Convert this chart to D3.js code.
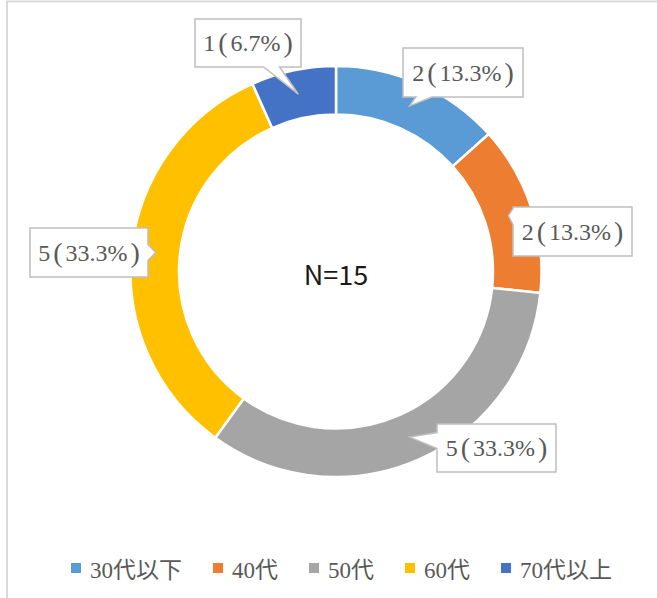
<!DOCTYPE html>
<html><head><meta charset="utf-8">
<script src="https://cdn.jsdelivr.net/npm/d3@7"></script>
<style>body{margin:0;background:#fff;}svg{display:block;}</style>
</head><body>
<svg id="c" width="657" height="598"></svg>
<script>
const categories = ["30代以下", "40代", "50代", "60代", "70代以上"];
const counts = [2, 2, 5, 5, 1];
const labels = ["2(13.3%)", "2(13.3%)", "5(33.3%)", "5(33.3%)", "1(6.7%)"];
const colors = ["#5B9BD5", "#ED7D31", "#A5A5A5", "#FFC000", "#4472C4"];
const centerText = "N=15";

// layout (label box centers/sizes), not data
const labelBoxes = [
  {cx: 463, cy: 72.5, w: 120, h: 49},
  {cx: 572.5, cy: 231.5, w: 119, h: 49},
  {cx: 496.5, cy: 448, w: 119, h: 48},
  {cx: 89, cy: 252.5, w: 118, h: 49},
  {cx: 248, cy: 43, w: 106, h: 48}
];

const svg = d3.select("#c");
svg.append("rect").attr("x", 7).attr("y", 1.5).attr("width", 700).attr("height", 700)
  .attr("fill", "none").attr("stroke", "#d9d9d9").attr("stroke-width", 2);

const cx = 336, cy = 271.5, rOut = 205.5, rIn = 157;
const pie = d3.pie().value(d => d).sort(null);
const arcs = pie(counts);
const arc = d3.arc().innerRadius(rIn).outerRadius(rOut);
const g = svg.append("g").attr("transform", `translate(${cx},${cy})`);
g.selectAll("path.slice").data(arcs).join("path")
  .attr("class", "slice")
  .attr("d", arc)
  .attr("fill", (d, i) => colors[i])
  .attr("stroke", "#fff").attr("stroke-width", 2.5);

svg.append("text").attr("x", cx).attr("y", 285).attr("text-anchor", "middle")
  .attr("font-family", "'Noto Sans CJK JP','Noto Sans',sans-serif").attr("font-size", 27)
  .attr("fill", "#1a1a1a").text(centerText);

const fontSerif = "'Liberation Serif','DejaVu Serif','Noto Sans CJK JP',serif";
arcs.forEach((a, i) => {
  const c = arc.centroid(a);
  const tip = [c[0] + cx, c[1] + cy];
  const b = labelBoxes[i];
  const x0 = b.cx - b.w / 2, x1 = b.cx + b.w / 2, y0 = b.cy - b.h / 2, y1 = b.cy + b.h / 2;
  const dx = tip[0] - b.cx, dy = tip[1] - b.cy;
  let tx = Infinity, ty = Infinity;
  if (dx !== 0) tx = (b.w / 2) / Math.abs(dx);
  if (dy !== 0) ty = (b.h / 2) / Math.abs(dy);
  const hw = 8;
  let pts;
  if (tx < ty) {
    let ey = b.cy + dy * tx;
    ey = Math.max(y0 + hw + 1, Math.min(y1 - hw - 1, ey));
    if (dx > 0) {
      pts = [[x0, y0], [x1, y0], [x1, ey - hw], tip, [x1, ey + hw], [x1, y1], [x0, y1]];
    } else {
      pts = [[x0, y0], [x1, y0], [x1, y1], [x0, y1], [x0, ey + hw], tip, [x0, ey - hw]];
    }
  } else {
    let ex = b.cx + dx * ty;
    ex = Math.max(x0 + hw + 1, Math.min(x1 - hw - 1, ex));
    if (dy > 0) {
      pts = [[x0, y0], [x1, y0], [x1, y1], [ex + hw, y1], tip, [ex - hw, y1], [x0, y1]];
    } else {
      pts = [[x0, y0], [ex - hw, y0], tip, [ex + hw, y0], [x1, y0], [x1, y1], [x0, y1]];
    }
  }
  svg.append("path").attr("d", d3.line()(pts) + "Z")
    .attr("fill", "#fff").attr("stroke", "#bfbfbf").attr("stroke-width", 1.5);
  const t = svg.append("text").attr("x", b.cx).attr("y", b.cy + 8)
    .attr("text-anchor", "middle").attr("font-family", fontSerif)
    .attr("font-size", 24).attr("fill", "#595959");
  // tall, padded parentheses as in the original font
  const parts = labels[i].split(/([()])/).filter(s => s.length);
  let prevParen = false;
  parts.forEach(p => {
    const isParen = p === "(" || p === ")";
    const ts = t.append("tspan").attr("dx", (isParen || prevParen) ? 3 : 0).text(p);
    if (isParen) ts.attr("font-size", 28).attr("dy", 1).attr("font-weight", 300);
    else if (prevParen) ts.attr("dy", -1);
    prevParen = isParen;
  });
});

// legend
const legendFont = "'Liberation Serif','Noto Sans CJK JP',serif";
const items = svg.append("g").selectAll("g").data(categories).join("g");
items.append("rect").attr("width", 10).attr("height", 10).attr("y", -15)
  .attr("fill", (d, i) => colors[i]);
items.append("text").attr("x", 19).attr("y", 0).attr("font-family", legendFont)
  .attr("font-size", 23).attr("fill", "#595959").text(d => d);
const gap = 31;
const widths = items.nodes().map(n => n.getBBox().width);
let start = 71;
items.attr("transform", (d, i) => {
  const tr = `translate(${start},578)`;
  start += widths[i] + gap;
  return tr;
});
</script>
</body></html>
